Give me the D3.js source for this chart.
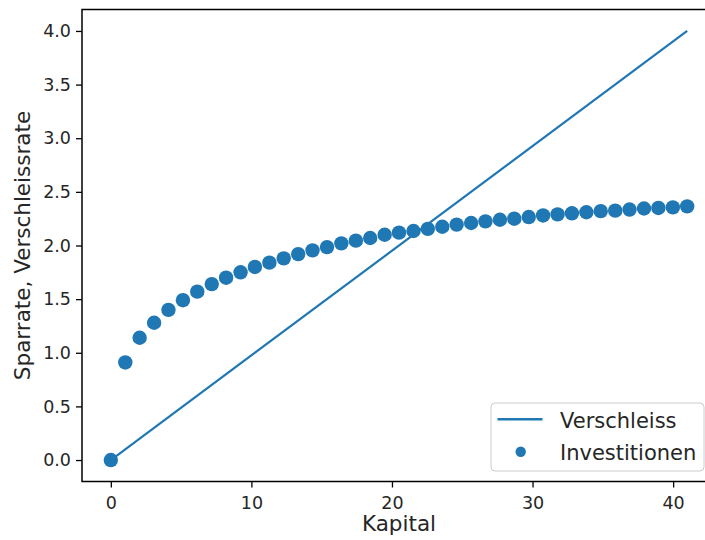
<!DOCTYPE html>
<html lang="de">
<head>
<meta charset="UTF-8">
<title>Sparrate und Verschleiss</title>
<script src="https://d3js.org/d3.v7.min.js"></script>
<style>
  body { margin: 0; background: #fff; }
  svg { display: block; font-family: "DejaVu Sans", sans-serif; }
  .tick text { fill: #262626; }
</style>
</head>
<body>
<div id="chart"></div>
<script>
// Kapital (x) for the Investitionen dots
const kapital = [0, 1.03, 2.05, 3.08, 4.1, 5.13, 6.15, 7.18, 8.2, 9.23, 10.25,
  11.28, 12.3, 13.33, 14.35, 15.38, 16.4, 17.43, 18.45, 19.48, 20.5,
  21.53, 22.55, 23.58, 24.6, 25.63, 26.65, 27.68, 28.7, 29.73, 30.75,
  31.78, 32.8, 33.83, 34.85, 35.88, 36.9, 37.93, 38.95, 39.98, 41];

// Investitionen
const investitionen = [0, 0.91, 1.14, 1.28, 1.40, 1.49, 1.57, 1.64, 1.70, 1.75, 1.80,
  1.84, 1.88, 1.92, 1.955, 1.985, 2.02, 2.045, 2.07, 2.10, 2.12,
  2.135, 2.155, 2.175, 2.195, 2.21, 2.225, 2.24, 2.25, 2.265, 2.28,
  2.29, 2.30, 2.31, 2.32, 2.325, 2.335, 2.345, 2.35, 2.355, 2.365];

// Verschleiss line
const verschleissX = [0, 41];
const verschleissY = [0, 4.0];

const xTicks = [0, 10, 20, 30, 40];
const yTicks = [0, 0.5, 1.0, 1.5, 2.0, 2.5, 3.0, 3.5, 4.0];

const svgWidth = 705, svgHeight = 540;
const margin = { left: 82, right: 716, top: 9.5, bottom: 481.5 };
const blue = "#1f77b4";
const textColor = "#262626";

const svg = d3.select("#chart").append("svg")
  .attr("width", svgWidth)
  .attr("height", svgHeight);

const x = d3.scaleLinear().domain([-2.05, 43.05]).range([margin.left, margin.right]);
const y = d3.scaleLinear().domain([-0.2, 4.2]).range([margin.bottom, margin.top]);

// Verschleiss line
const line = d3.line().x(d => x(d[0])).y(d => y(d[1]));
svg.append("path")
  .datum(verschleissX.map((v, i) => [v, verschleissY[i]]))
  .attr("d", line)
  .attr("fill", "none")
  .attr("stroke", blue)
  .attr("stroke-width", 2.2);

// Investitionen dots
svg.append("g").selectAll("circle")
  .data(kapital.map((v, i) => [v, investitionen[i]]))
  .enter().append("circle")
  .attr("cx", d => x(d[0]))
  .attr("cy", d => y(d[1]))
  .attr("r", 7.2)
  .attr("fill", blue);

// Axes
const xAxis = svg.append("g")
  .attr("transform", "translate(0," + margin.bottom + ")")
  .call(d3.axisBottom(x).tickValues(xTicks).tickFormat(d3.format("d")).tickSize(6).tickPadding(9));
const yAxis = svg.append("g")
  .attr("transform", "translate(" + margin.left + ",0)")
  .call(d3.axisLeft(y).tickValues(yTicks).tickFormat(d3.format(".1f")).tickSize(6).tickPadding(5));

[xAxis, yAxis].forEach(a => {
  a.select(".domain").remove();
  a.selectAll(".tick line").attr("stroke", "#000").attr("stroke-width", 1.3);
  a.selectAll(".tick text").style("font-size", "17.5px").style("font-family", "DejaVu Sans");
});

// Frame (spines)
svg.append("rect")
  .attr("x", margin.left).attr("y", margin.top)
  .attr("width", margin.right - margin.left).attr("height", margin.bottom - margin.top)
  .attr("fill", "none").attr("stroke", "#000").attr("stroke-width", 1.5);

// Axis labels
svg.append("text")
  .attr("x", (margin.left + margin.right) / 2).attr("y", 531)
  .attr("text-anchor", "middle")
  .style("font-size", "21.5px").attr("fill", textColor)
  .text("Kapital");

svg.append("text")
  .attr("transform", "translate(30," + (margin.top + margin.bottom) / 2 + ") rotate(-90)")
  .attr("text-anchor", "middle")
  .style("font-size", "21.5px").attr("fill", textColor)
  .text("Sparrate, Verschleissrate");

// Legend
const legend = svg.append("g").attr("transform", "translate(491,403)");
legend.append("rect")
  .attr("width", 213).attr("height", 68).attr("rx", 4)
  .attr("fill", "#fff").attr("fill-opacity", 0.8)
  .attr("stroke", "#cccccc").attr("stroke-width", 1);
legend.append("line")
  .attr("x1", 6.5).attr("x2", 51.5).attr("y1", 16.3).attr("y2", 16.3)
  .attr("stroke", blue).attr("stroke-width", 2.4);
legend.append("circle")
  .attr("cx", 29.7).attr("cy", 48.7).attr("r", 5.2).attr("fill", blue);
legend.append("text")
  .attr("x", 69).attr("y", 24.5)
  .style("font-size", "21px").attr("fill", textColor)
  .text("Verschleiss");
legend.append("text")
  .attr("x", 69).attr("y", 56.5)
  .style("font-size", "21px").attr("fill", textColor)
  .text("Investitionen");
</script>
</body>
</html>
